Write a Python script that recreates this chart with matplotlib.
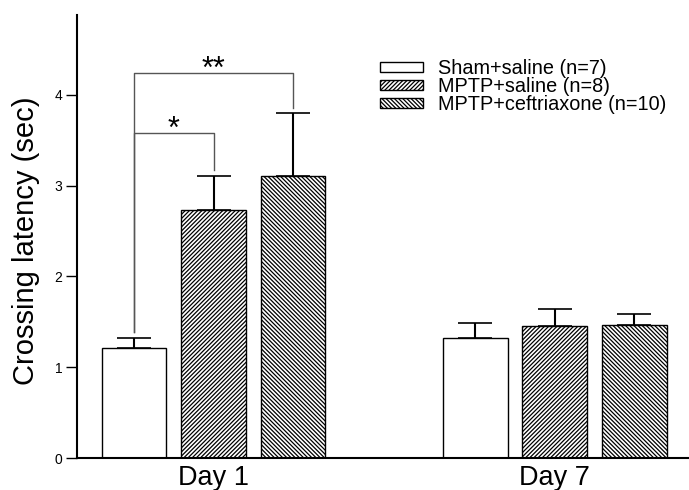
import matplotlib
matplotlib.use("Agg")
import matplotlib.pyplot as plt
import numpy as np

# ---- data ----
days = ["Day 1", "Day 7"]
groups = ["Sham+saline (n=7)", "MPTP+saline (n=8)", "MPTP+ceftriaxone (n=10)"]
sham_mean = [1.215, 1.325]
sham_sem = [0.105, 0.165]
mptp_mean = [2.73, 1.45]
mptp_sem = [0.38, 0.19]
ceft_mean = [3.11, 1.465]
ceft_sem = [0.69, 0.125]
yticks = [0, 1, 2, 3, 4]
# significance brackets (Day 1): (group_a, group_b, bracket height, left bottom, right bottom, label)
sig_brackets = [
    (0, 1, 3.585, 1.39, 3.17, "*"),
    (0, 2, 4.245, 1.39, 3.86, "**"),
]

plt.rcParams["font.family"] = ["Liberation Sans", "DejaVu Sans"]
plt.rcParams["hatch.linewidth"] = 0.9

fig = plt.figure(figsize=(6.89, 4.9), dpi=100)
ax = fig.add_axes([77 / 689, 1 - 458 / 490, 612 / 689, 443 / 490])

means = [sham_mean, mptp_mean, ceft_mean]
sems = [sham_sem, mptp_sem, ceft_sem]
hatches = [None, "////////", "\\\\\\\\\\\\\\\\"]
offsets = [-0.233, 0.0, 0.233]
width = 0.19
xc = np.arange(len(days))

for i in range(3):
    xs = xc + offsets[i]
    ax.bar(xs, means[i], width=width, color="white", edgecolor="black",
           linewidth=1.0, hatch=hatches[i], label=groups[i], zorder=2)
    ax.errorbar(xs, means[i], yerr=[np.zeros(len(xs)), sems[i]], fmt="none",
                ecolor="black", elinewidth=1.5, capsize=12.2, capthick=1.2, zorder=3)

for a, b, h, lb, rb, lab in sig_brackets:
    xa = xc[0] + offsets[a]
    xb = xc[0] + offsets[b]
    ax.plot([xa, xa, xb, xb], [lb, h, h, rb], color="#555555", lw=1.0, zorder=1)
    ax.annotate(lab, xy=((xa + xb) / 2, h), xytext=(0, -4), textcoords="offset points",
                ha="center", va="baseline", fontsize=22, color="black")

ax.set_xlim(-0.40, 1.393)
ax.set_ylim(0, 4.88)
ax.set_yticks(yticks)
ax.set_yticklabels([str(t) for t in yticks])
ax.set_xticks(xc)
ax.set_xticklabels(days, fontsize=19.5)
ax.tick_params(axis="x", length=0, pad=5)
ax.tick_params(axis="y", length=8, width=1.0, labelsize=10, pad=2.5, direction="out")
for s in ["top", "right"]:
    ax.spines[s].set_visible(False)
ax.spines["left"].set_linewidth(1.5)
ax.spines["bottom"].set_linewidth(1.5)
ax.set_ylabel("Crossing latency (sec)", fontsize=21)
ax.yaxis.set_label_coords(-0.06, 0.49)

leg = ax.legend(loc="upper left", bbox_to_anchor=(380 / 689, 1 - 59 / 490),
                bbox_transform=fig.transFigure, frameon=False, fontsize=14.3,
                borderpad=0, borderaxespad=0, handlelength=2.16, handleheight=0.35,
                handletextpad=0.75, labelspacing=-0.05)

fig.savefig("out.png", dpi=100)
